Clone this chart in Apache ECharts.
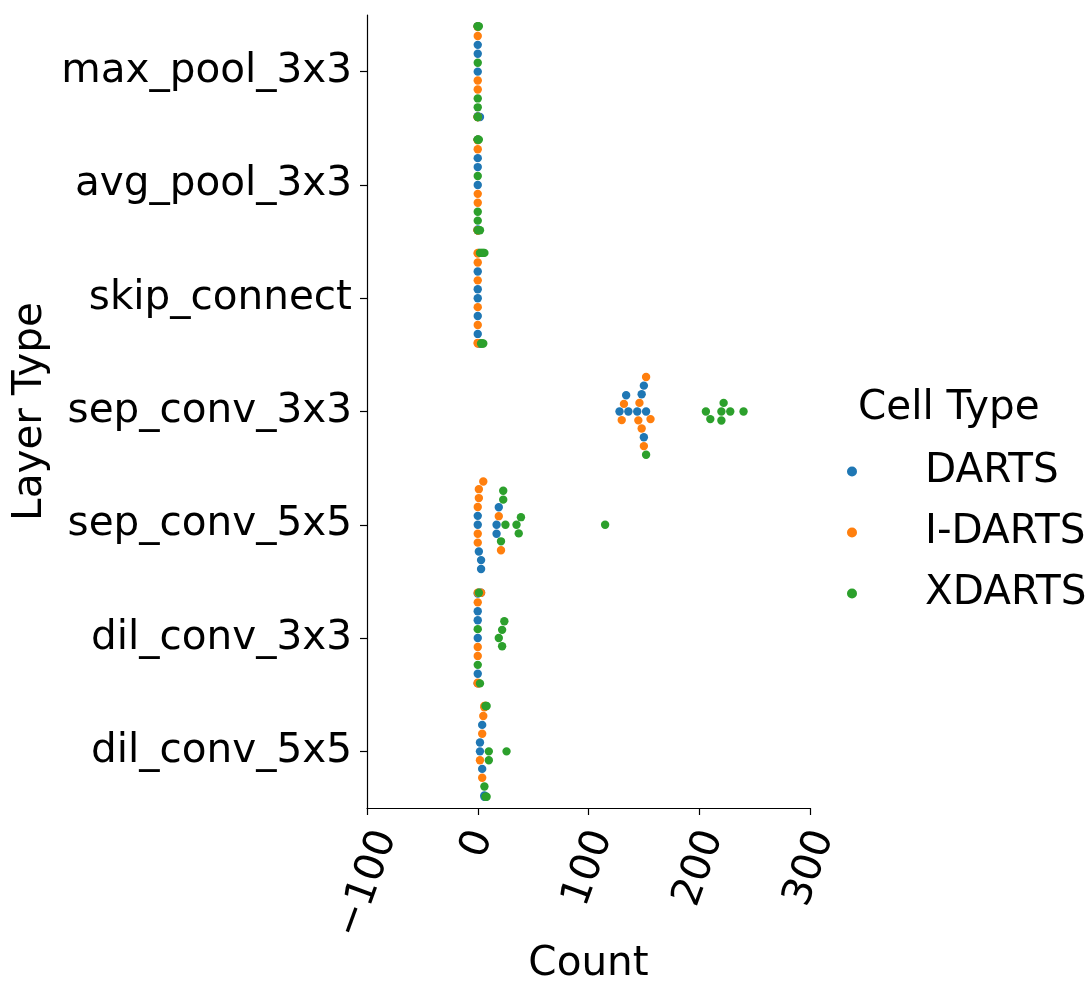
<!DOCTYPE html>
<html>
<head>
<meta charset="utf-8">
<title>Layer Type counts by Cell Type</title>
<script src="https://cdn.jsdelivr.net/npm/echarts@6/dist/echarts.min.js"></script>
<style>
  html, body { margin: 0; padding: 0; background: #ffffff; }
  #chart { width: 1091px; height: 982px; }
</style>
</head>
<body>
<div id="chart"></div>
<script>
// Layer types on the categorical axis (top to bottom)
const layerTypes = ['max_pool_3x3', 'avg_pool_3x3', 'skip_connect', 'sep_conv_3x3', 'sep_conv_5x5', 'dil_conv_3x3', 'dil_conv_5x5'];

// Cell types (hue) and their colours
const cellTypes = ['DARTS', 'I-DARTS', 'XDARTS'];
const cellColors = ['#1f77b4', '#ff7f0e', '#2ca02c'];

// Counts per layer type, one list of eight cells for each cell type
const dartsCounts = [
  [0, 0, 0, 0, 0, 0, 0, 2],
  [0, 0, 0, 0, 0, 0, 0, 0],
  [0, 0, 0, 0, 0, 1, 1, 2],
  [128, 134, 136, 144, 150, 148, 150, 152],
  [0, 0, 1, 3, 3, 17, 17, 19],
  [0, 0, 0, 0, 0, 0, 1, 3],
  [2, 2, 4, 4, 6, 6, 7, 7]
];
const idartsCounts = [
  [0, 0, 0, 0, 0, 0, 0, 0],
  [0, 0, 0, 0, 0, 0, 0, 0],
  [0, 0, 0, 0, 0, 0, 0, 0],
  [130, 132, 145, 146, 148, 156, 150, 152],
  [0, 0, 0, 1, 1, 5, 19, 21],
  [0, 0, 0, 0, 0, 0, 1, 3],
  [2, 4, 4, 5, 6, 6, 7, 7]
];
const xdartsCounts = [
  [0, 0, 0, 0, 0, 0, 0, 1],
  [0, 0, 0, 0, 0, 0, 1, 2],
  [2, 3, 3, 4, 4, 5, 5, 6],
  [206, 210, 220, 220, 222, 228, 240, 152],
  [21, 23, 23, 25, 35, 37, 39, 115],
  [0, 0, 1, 2, 19, 22, 22, 24],
  [6, 7, 7, 8, 8, 10, 10, 26]
];

// X axis range and tick values
const countMin = -100;
const countMax = 300;
const countStep = 100;
const countTicks = [-100, 0, 100, 200, 300];

const FONT = 'DejaVu Sans';
const FS = 40.5;
const LABEL_ROT = 70;
const chart = echarts.init(document.getElementById('chart'), null, { renderer: 'canvas' });

function minusFmt(v) {
  return v < 0 ? '\u2212' + Math.abs(v) : String(v);
}

// Rotated tick labels hang below their tick, centred on it, with their
// tops level: shift each label inside its own box according to its width.
const measureCtx = document.createElement('canvas').getContext('2d');
measureCtx.font = FS + 'px "DejaVu Sans"';
const th = LABEL_ROT * Math.PI / 180;
const tickRich = {};
countTicks.forEach((v, i) => {
  const w = measureCtx.measureText(minusFmt(v)).width;
  const a = (w / 2) * Math.sin(th) * Math.sin(th);   // shift back along the text
  const b = (w / 2) * Math.sin(th) * Math.cos(th);   // shift across the text
  tickRich['t' + i] = {
    fontFamily: FONT, fontSize: FS, color: '#000',
    padding: [2 * b, 2 * a, 0, 0]
  };
});

const baseOption = {
  animation: false,
  backgroundColor: '#ffffff',
  textStyle: { fontFamily: FONT },
  grid: { left: 367, top: 15, width: 443, height: 793, outerBoundsMode: 'none' },
  xAxis: {
    type: 'value',
    min: countMin,
    max: countMax,
    interval: countStep,
    name: 'Count',
    nameLocation: 'middle',
    nameGap: 136,
    nameMoveOverlap: false,
    nameTextStyle: { fontFamily: FONT, fontSize: FS, color: '#000' },
    splitLine: { show: false },
    axisLine: { show: true, onZero: false, lineStyle: { color: '#000', width: 1.2 } },
    axisTick: { show: true, inside: false, length: 7, lineStyle: { color: '#000', width: 1.2 } },
    axisLabel: {
      fontFamily: FONT, fontSize: FS, color: '#000',
      rotate: LABEL_ROT, align: 'center', verticalAlign: 'middle', margin: 24,
      hideOverlap: false, showMinLabel: true, showMaxLabel: true,
      formatter: function (v) {
        const i = countTicks.indexOf(v);
        return i < 0 ? minusFmt(v) : '{t' + i + '|' + minusFmt(v) + '}';
      },
      rich: tickRich
    }
  },
  yAxis: {
    type: 'category',
    data: layerTypes,
    inverse: true,
    boundaryGap: true,
    name: 'Layer Type',
    nameLocation: 'middle',
    nameRotate: 90,
    nameGap: 316,
    nameMoveOverlap: false,
    nameTextStyle: { fontFamily: FONT, fontSize: FS, color: '#000' },
    axisLine: { show: true, onZero: false, lineStyle: { color: '#000', width: 1.2 } },
    axisTick: { show: true, alignWithLabel: true, inside: false, length: 7, lineStyle: { color: '#000', width: 1.2 } },
    axisLabel: { fontFamily: FONT, fontSize: FS, color: '#000', margin: 15, interval: 0 },
    splitLine: { show: false }
  },
  legend: {
    orient: 'vertical',
    left: 842,
    top: 446,
    icon: 'circle',
    itemWidth: 136,
    itemHeight: 10,
    itemGap: 20,
    data: cellTypes,
    textStyle: { fontFamily: FONT, fontSize: FS, color: '#000', lineHeight: 41 }
  },
  graphic: [{
    type: 'text',
    left: 858,
    top: 388,
    style: { text: 'Cell Type', font: FS + 'px "DejaVu Sans"', fill: '#000' }
  }],
  series: []
};

chart.setOption(baseOption);

// Beeswarm layout: points sorted by value, each placed at the free
// offset nearest the category centre, then clamped to the band width.
function beeswarm(valuesPx, r) {
  const order = valuesPx.map((v, i) => i).sort((a, b) => valuesPx[a] - valuesPx[b]);
  const swarm = [];
  const placed = new Array(valuesPx.length);
  order.forEach((idx, k) => {
    const v = valuesPx[idx];
    if (k === 0) {
      swarm.push({ pos: 0, v: v });
      placed[idx] = 0;
      return;
    }
    const neighbors = [];
    for (let j = swarm.length - 1; j >= 0; j--) {
      if (v - swarm[j].v < 2 * r) neighbors.push(swarm[j]);
      else break;
    }
    let cands = [0];
    let leftFirst = true;
    neighbors.forEach(nb => {
      const dy = v - nb.v;
      const dx = Math.sqrt(Math.max(4 * r * r - dy * dy, 0)) * 1.05;
      const cl = nb.pos - dx, cr = nb.pos + dx;
      if (leftFirst) cands.push(cl, cr); else cands.push(cr, cl);
      leftFirst = !leftFirst;
    });
    cands = cands.map((c, i) => ({ c, i })).sort((a, b) => (Math.abs(a.c) - Math.abs(b.c)) || (a.i - b.i)).map(o => o.c);
    let chosen = cands[0];
    if (neighbors.length) {
      for (const c of cands) {
        const ok = neighbors.every(nb => {
          const d2 = (nb.pos - c) ** 2 + (nb.v - v) ** 2;
          return d2 >= 4 * r * r - 1e-9;
        });
        if (ok) { chosen = c; break; }
      }
    }
    swarm.push({ pos: chosen, v: v });
    placed[idx] = chosen;
  });
  return placed;
}

const x0 = chart.convertToPixel({ xAxisIndex: 0 }, 0);
const pxPerUnit = (chart.convertToPixel({ xAxisIndex: 0 }, 100) - x0) / 100;
const bandPx = Math.abs(chart.convertToPixel({ yAxisIndex: 0 }, 1) - chart.convertToPixel({ yAxisIndex: 0 }, 0));
const swarmR = 4.25;
const halfWidth = 0.4 * bandPx;

const allCounts = [dartsCounts, idartsCounts, xdartsCounts];
const seriesData = cellTypes.map(() => []);

layerTypes.forEach((layer, ci) => {
  // cells of one layer type, interleaved across cell types
  const pts = [];
  for (let k = 0; k < 8; k++) {
    allCounts.forEach((counts, h) => {
      if (k < counts[ci].length) pts.push({ h, value: counts[ci][k] });
    });
  }
  const offs = beeswarm(pts.map(p => p.value * pxPerUnit), swarmR);
  pts.forEach((p, i) => {
    const off = Math.max(-halfWidth, Math.min(halfWidth, offs[i]));
    seriesData[p.h].push([p.value, ci, off]);
  });
});

chart.setOption({
  series: cellTypes.map((name, h) => ({
    name,
    type: 'custom',
    coordinateSystem: 'cartesian2d',
    itemStyle: { color: cellColors[h] },
    encode: { x: 0, y: 1 },
    data: seriesData[h],
    renderItem: function (params, api) {
      const c = api.coord([api.value(0), api.value(1)]);
      return {
        type: 'circle',
        shape: { cx: c[0], cy: c[1] - api.value(2), r: 4.2 },
        style: { fill: cellColors[h] }
      };
    }
  }))
});
</script>
</body>
</html>
